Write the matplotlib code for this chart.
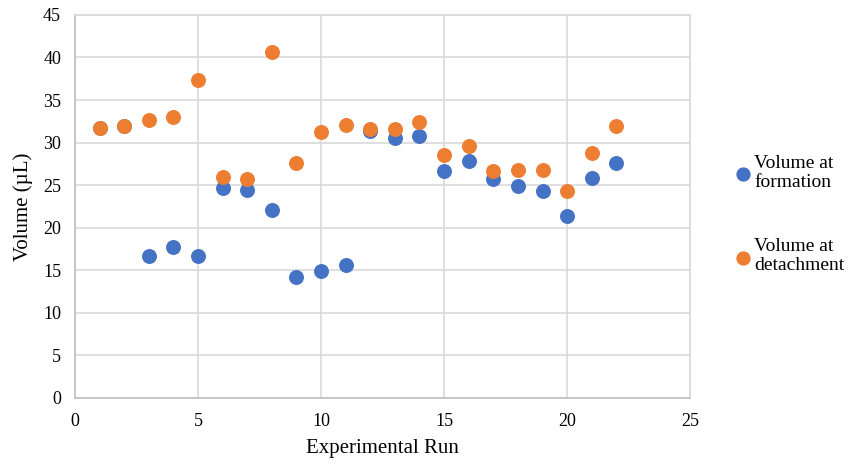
import matplotlib as mpl
mpl.use('Agg')
import matplotlib.pyplot as plt

runs = list(range(1, 23))
formation = [31.7, 32.0, 16.7, 17.7, 16.7, 24.7, 24.4, 22.1, 14.2, 14.9, 15.6,
             31.4, 30.5, 30.8, 26.7, 27.8, 25.7, 24.9, 24.3, 21.4, 25.8, 27.6]
detachment = [31.7, 32.0, 32.7, 33.0, 37.3, 26.0, 25.7, 40.7, 27.6, 31.2, 32.1,
              31.6, 31.6, 32.4, 28.5, 29.6, 26.7, 26.8, 26.8, 24.3, 28.8, 31.9]

plt.rcParams['font.family'] = ['Liberation Serif', 'DejaVu Serif']

fig = plt.figure(figsize=(8.51, 4.66), dpi=100)
ax = fig.add_axes([0.0881, 0.146, 0.7229, 0.822])

ax.scatter(runs, formation, s=95, color='#4472C4', label='Volume at\nformation', zorder=3)
ax.scatter(runs, detachment, s=95, color='#ED7D31', label='Volume at\ndetachment', zorder=3)

ax.set_xlim(0, 25)
ax.set_ylim(0, 45)
ax.set_xticks(range(0, 26, 5))
ax.set_yticks(range(0, 46, 5))
ax.grid(True, color='#D9D9D9', linewidth=1.2)
ax.set_axisbelow(True)
for s in ax.spines.values():
    s.set_color('#D9D9D9')
    s.set_linewidth(1.2)
ax.spines['left'].set_color('#BFBFBF')
ax.spines['bottom'].set_color('#BFBFBF')
ax.tick_params(length=0, labelsize=13)
ax.tick_params(axis='x', pad=11)
ax.tick_params(axis='y', pad=10)

ax.set_xlabel('Experimental Run', fontsize=15, labelpad=6)
ax.set_ylabel('Volume (µL)', fontsize=15, labelpad=7)

fig.legend(loc='upper left', bbox_to_anchor=(0.853, 0.685), frameon=False,
           fontsize=14, handletextpad=0.05, labelspacing=2.4, markerscale=0.95,
           borderaxespad=0, handlelength=1.0)

plt.savefig('out.png')
